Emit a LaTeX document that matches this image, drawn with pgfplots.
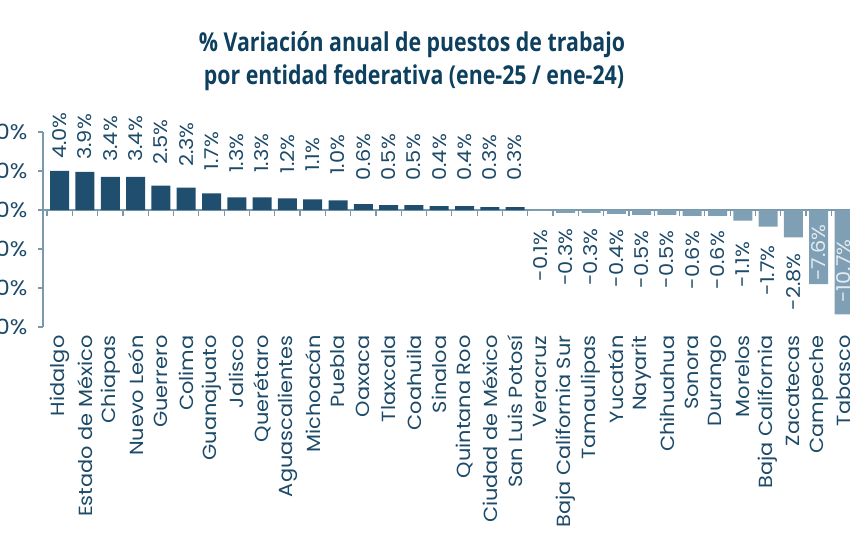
\documentclass[border=0pt]{standalone}
\usepackage{fontspec}
\setmainfont[FakeStretch=1.1]{Poppins}
\newfontfamily\titlefont[FakeStretch=0.82]{Open Sans}
\usepackage{pgfplots}
\usepackage{pgfplotstable}
\pgfplotsset{compat=1.18}
\definecolor{darkbar}{HTML}{1F4E6E}
\definecolor{lightbar}{HTML}{7F9FB4}
\definecolor{txt}{HTML}{1C4A68}
\definecolor{axc}{HTML}{7A99AD}
\definecolor{ttl}{HTML}{0D3F5E}
\definecolor{inlab}{HTML}{E3EBF0}

% bar values
\pgfplotstableread{
x v
0 4.0
1 3.9
2 3.4
3 3.4
4 2.5
5 2.3
6 1.7
7 1.3
8 1.3
9 1.2
10 1.1
11 1.0
12 0.6
13 0.5
14 0.5
15 0.4
16 0.4
17 0.3
18 0.3
}\postab
\pgfplotstableread{
x v
19 -0.1
20 -0.3
21 -0.3
22 -0.4
23 -0.5
24 -0.5
25 -0.6
26 -0.6
27 -1.1
28 -1.7
29 -2.8
30 -7.6
31 -10.7
}\negtab

% value labels of the negative bars: centre of the label, text
\pgfplotstableread{
x ly lab
19 -4.65 -0.1\%
20 -4.85 -0.3\%
21 -4.85 -0.3\%
22 -4.95 -0.4\%
23 -5.05 -0.5\%
24 -5.05 -0.5\%
25 -5.15 -0.6\%
26 -5.15 -0.6\%
27 -5.6 -1.1\%
28 -6.2 -1.7\%
29 -7.35 -2.8\%
}\labtab
\pgfplotstableread{
x ly lab
30 -4.36 -7.6\%
31 -6.26 -10.7\%
}\intab

\pgfplotsset{
  common/.style={
    at={(43pt,223pt)}, anchor=south west,
    x=25.3pt, y=9.75pt,
    xmin=-0.66, xmax=31.5, ymin=-12, ymax=8,
    clip=false,
  },
}
\newcommand{\dn}[2]{\hspace*{-#1pt}#2}

\begin{document}
\begin{tikzpicture}
\begin{axis}[
  common,
  axis x line*=bottom, axis y line*=left,
  x axis line style={draw=none},
  y axis line style={axc, line width=1.2pt},
  xtick={0,...,31},
  xticklabels={Hidalgo,Estado de México,Chiapas,Nuevo León,Guerrero,Colima,Guanajuato,Jalisco,Querétaro,Aguascalientes,Michoacán,Puebla,Oaxaca,Tlaxcala,Coahuila,Sinaloa,Quintana Roo,Ciudad de México,San Luis Potosí,Veracruz,Baja California Sur,Tamaulipas,Yucatán,Nayarit,Chihuahua,Sonora,Durango,Morelos,Baja California,Zacatecas,Campeche,Tabasco},
  xticklabel style={rotate=90, anchor=east, font=\fontsize{19}{21}\selectfont, text=txt},
  major x tick style={draw=none},
  ytick={-12,-8,-4,0,4,8},
  yticklabels={-12.0\%,-8.0\%,-4.0\%,0.0\%,4.0\%,8.0\%},
  yticklabel style={font=\fontsize{21}{24}\selectfont, text=txt, xshift=-7pt},
  y tick style={axc, line width=1.2pt},
  major tick length=5pt,
  tick align=outside,
]
\addplot[draw=none, mark=none, forget plot] coordinates {(0,0)};
\end{axis}
% labels of the positive bars, set as rotated tick labels of a top axis
\begin{axis}[
  common,
  axis x line*=top, axis y line=none,
  x axis line style={draw=none},
  major x tick style={draw=none},
  xtick={0,...,18},
  xticklabels={\dn{27}{4.0\%},\dn{28}{3.9\%},\dn{30}{3.4\%},\dn{30}{3.4\%},\dn{33}{2.5\%},\dn{35}{2.3\%},\dn{40}{1.7\%},\dn{44}{1.3\%},\dn{44}{1.3\%},\dn{45}{1.2\%},\dn{46}{1.1\%},\dn{47}{1.0\%},\dn{51}{0.6\%},\dn{52}{0.5\%},\dn{52}{0.5\%},\dn{52}{0.4\%},\dn{52}{0.4\%},\dn{52}{0.3\%},\dn{52}{0.3\%}},
  xticklabel style={rotate=90, anchor=west, inner sep=0pt, font=\fontsize{19}{21}\selectfont, text=txt},
  xticklabel shift=0pt,
  ytick=\empty,
]
\addplot[draw=none, mark=none, forget plot] coordinates {(0,0)};
\end{axis}
\begin{axis}[
  common,
  axis x line*=middle, axis y line=none,
  axis line style={axc, line width=1.2pt},
  xtick={-0.5,0.5,...,31.5},
  xticklabels={},
  x tick style={axc, line width=1.2pt},
  major tick length=6pt,
  xtick align=outside,
  ytick=\empty,
]
\addplot[ybar, bar width=19pt, bar shift=0pt, fill=darkbar, draw=none] table[x=x, y=v] {\postab};
\addplot[ybar, bar width=19pt, bar shift=0pt, fill=lightbar, draw=none] table[x=x, y=v] {\negtab};
\addplot[only marks, mark=none, point meta=explicit symbolic, nodes near coords,
  nodes near coords style={rotate=90, anchor=center, inner sep=0pt, text=txt, font=\fontsize{19}{21}\selectfont}]
  table[x=x, y=ly, meta=lab] {\labtab};
\addplot[only marks, mark=none, point meta=explicit symbolic, nodes near coords,
  nodes near coords style={rotate=90, anchor=center, inner sep=0pt, text=inlab, font=\fontsize{19}{21}\selectfont}]
  table[x=x, y=ly, meta=lab] {\intab};
\end{axis}
\node[anchor=base, text=ttl, font=\titlefont\bfseries\fontsize{26}{30}\selectfont] at (412pt,498pt) {\% Variación anual de puestos de trabajo};
\node[anchor=base, text=ttl, font=\titlefont\bfseries\fontsize{26}{30}\selectfont] at (414pt,465pt) {por entidad federativa (ene-25 / ene-24)};
\pgfresetboundingbox
\path[use as bounding box] (0,0) rectangle (850pt,550pt);
\end{tikzpicture}
\end{document}
